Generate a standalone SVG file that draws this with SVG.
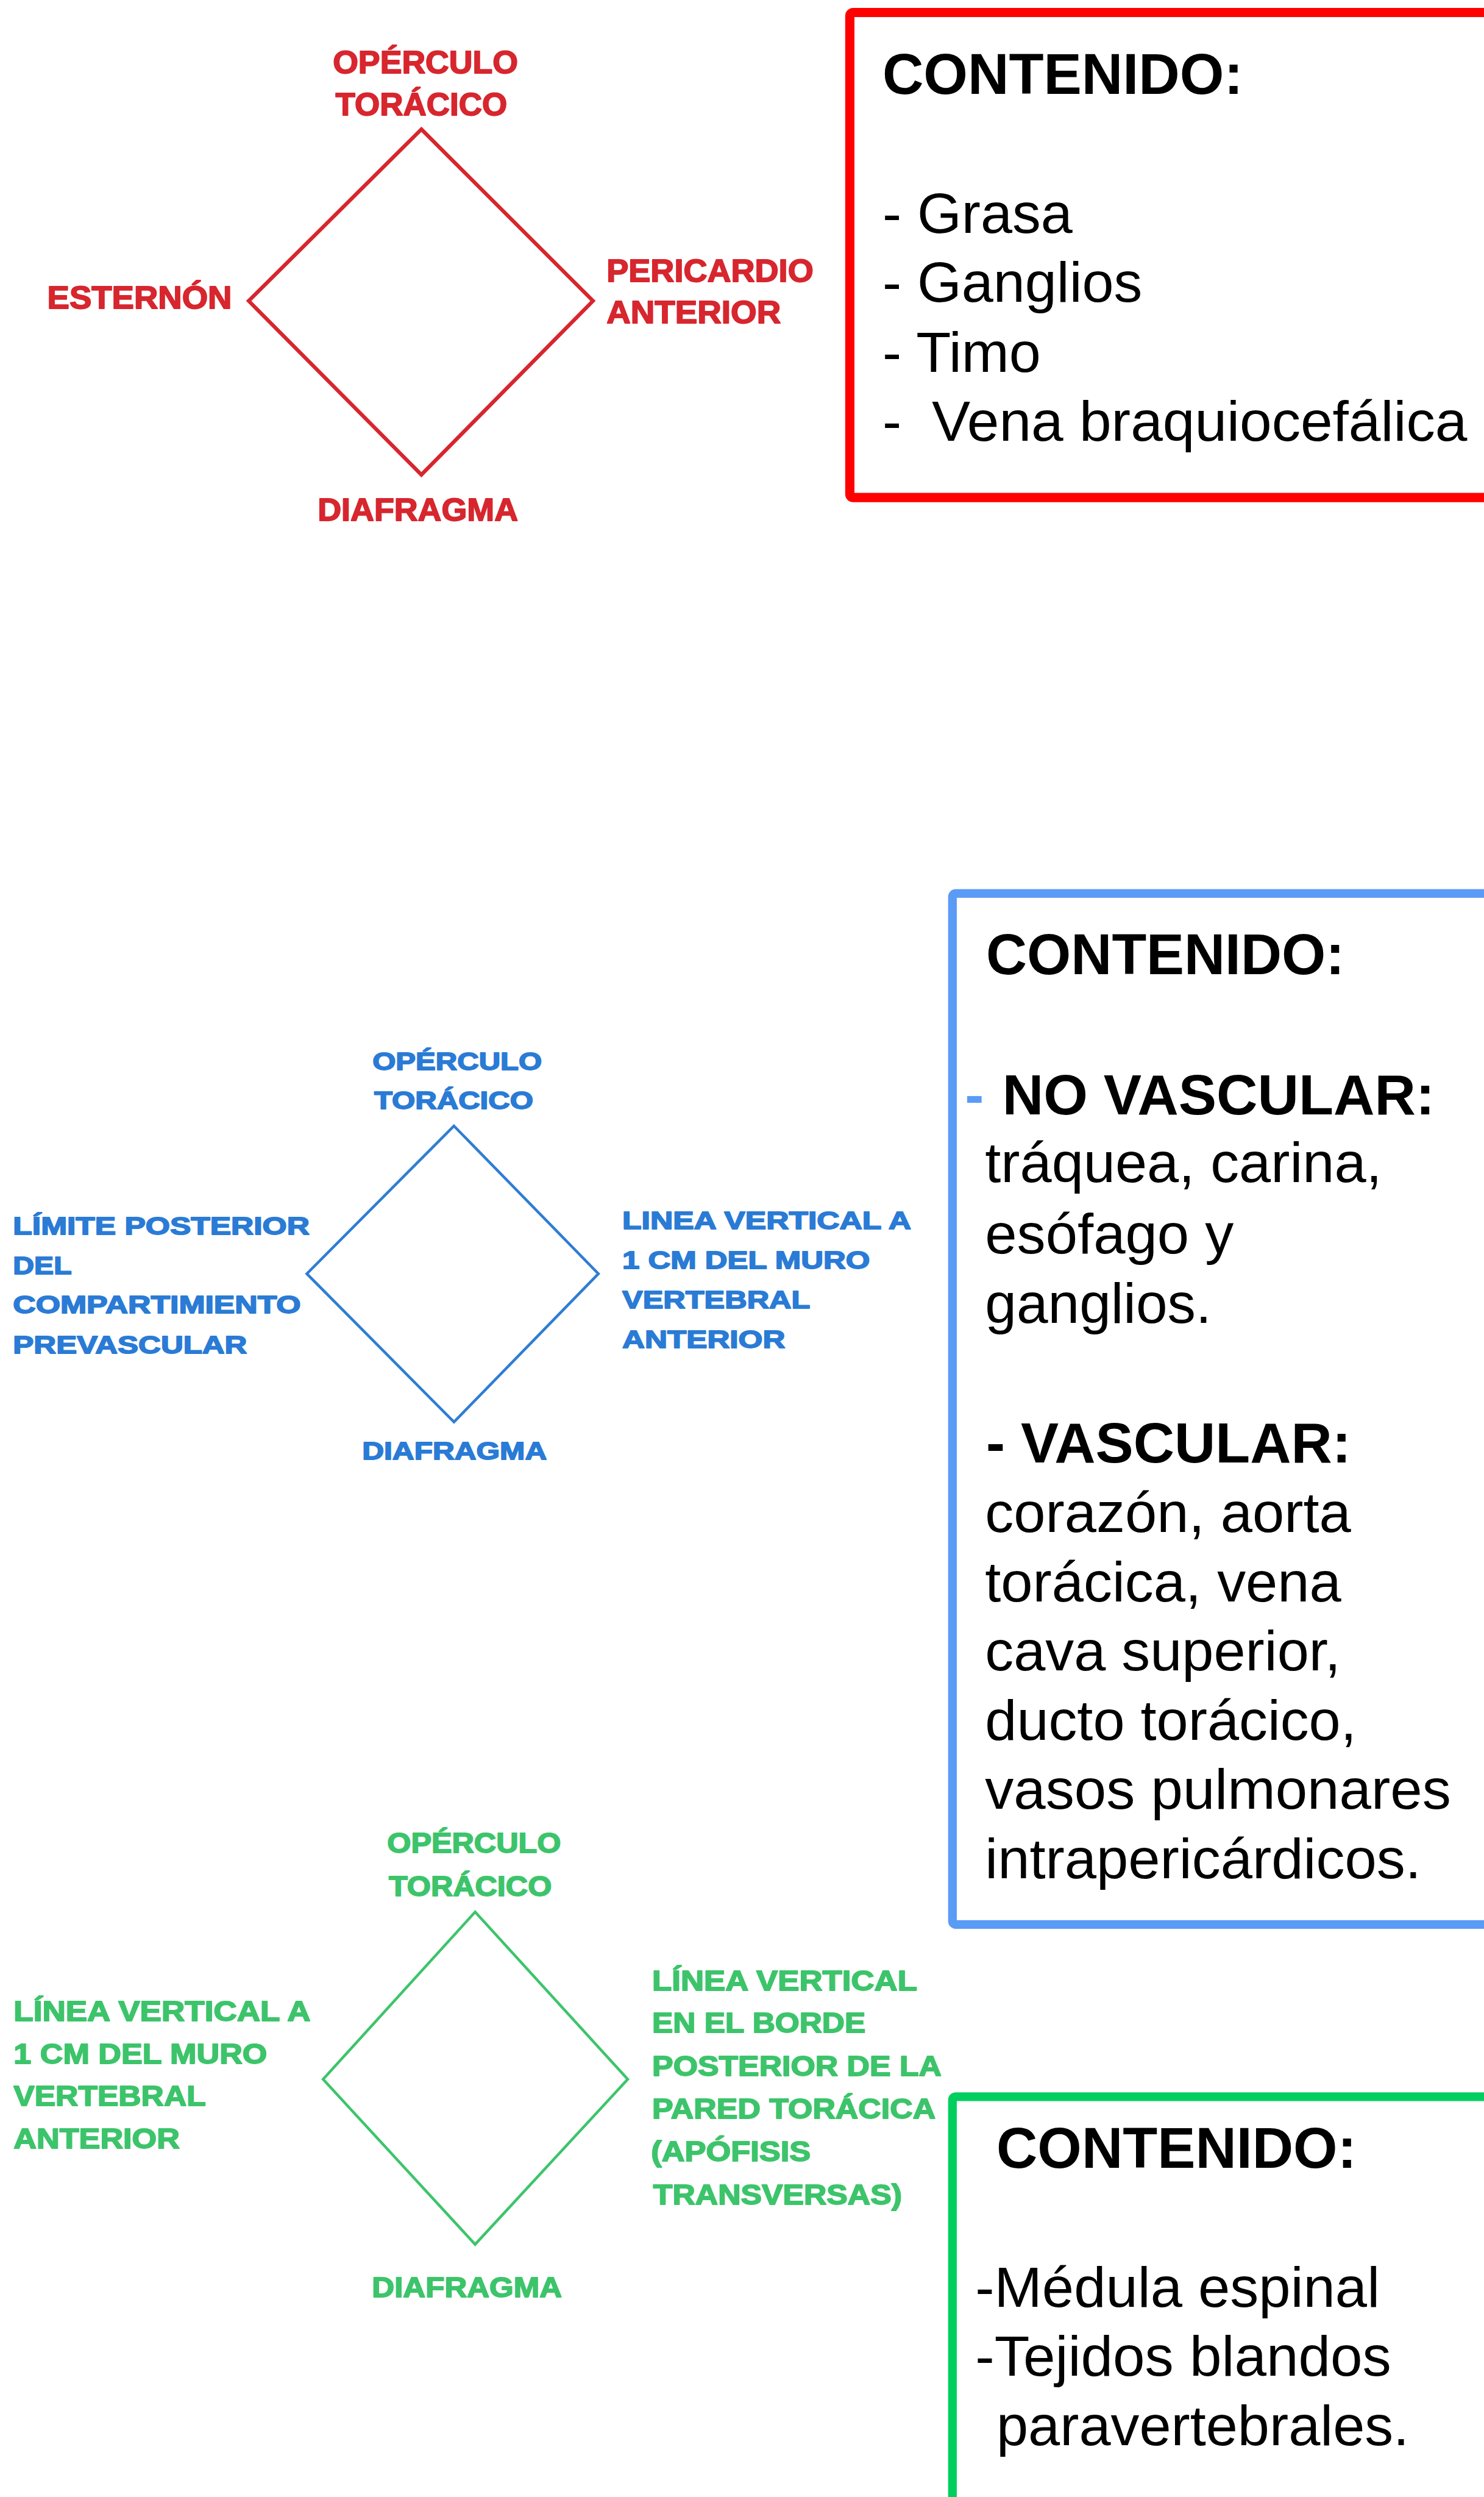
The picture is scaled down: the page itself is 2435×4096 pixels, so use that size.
<svg xmlns="http://www.w3.org/2000/svg" width="2435" height="4096" viewBox="0 0 2435 4096">
<style>
.lab{font-family:"Liberation Sans",Arial,sans-serif;font-weight:bold;stroke-width:2;stroke-linejoin:round;}
.r{fill:#d7262e;stroke:#d7262e;font-size:58px;}
.b{fill:#2a7bd5;stroke:#2a7bd5;font-size:46px;}
.g{fill:#3dc46b;stroke:#3dc46b;font-size:51px;}
.dr{fill:none;stroke:#d7262e;stroke-width:7;}
.db{fill:none;stroke:#2e7dd3;stroke-width:5;}
.dg{fill:none;stroke:#3dc46b;stroke-width:5;}
.box{fill:#ffffff;}
.h{font-family:"Liberation Sans",Arial,sans-serif;font-weight:bold;font-size:106px;fill:#000;}
.t{font-family:"Liberation Sans",Arial,sans-serif;font-size:105px;fill:#000;}
.tb{font-family:"Liberation Sans",Arial,sans-serif;font-weight:bold;font-size:105px;fill:#000;}
</style>
<rect x="0" y="0" width="2435" height="4096" fill="#ffffff"/>
<g transform="scale(0.891)">
  <g id="red-diamond">
    <polygon class="dr" points="776,238 1092,554 776,874 458,554"/>
    <text class="lab r" x="613" y="135" textLength="341" lengthAdjust="spacingAndGlyphs">OPÉRCULO</text>
    <text class="lab r" x="618" y="212" textLength="316" lengthAdjust="spacingAndGlyphs">TORÁCICO</text>
    <text class="lab r" x="87" y="568" textLength="340" lengthAdjust="spacingAndGlyphs">ESTERNÓN</text>
    <text class="lab r" x="1117" y="518" textLength="381" lengthAdjust="spacingAndGlyphs">PERICARDIO</text>
    <text class="lab r" x="1117" y="595" textLength="321" lengthAdjust="spacingAndGlyphs">ANTERIOR</text>
    <text class="lab r" x="585" y="958" textLength="369" lengthAdjust="spacingAndGlyphs">DIAFRAGMA</text>
  </g>
  <g id="red-box">
    <rect class="box" x="1565" y="23" width="1300" height="893" rx="6" stroke="#ff0000" stroke-width="17"/>
    <text class="h" x="1625" y="173" textLength="664" lengthAdjust="spacingAndGlyphs">CONTENIDO:</text>
    <text class="t" x="1625" y="429">- Grasa</text>
    <text class="t" x="1625" y="556">- Ganglios</text>
    <text class="t" x="1625" y="685">- Timo</text>
    <text class="t" y="812"><tspan x="1625">-</tspan><tspan x="1716" textLength="986" lengthAdjust="spacingAndGlyphs">Vena braquiocefálica</tspan></text>
  </g>

  <g id="blue-diamond">
    <polygon class="db" points="836,2073 1102,2345 836,2618 565,2345"/>
    <text class="lab b" x="686" y="1970" textLength="312" lengthAdjust="spacingAndGlyphs">OPÉRCULO</text>
    <text class="lab b" x="689" y="2041" textLength="293" lengthAdjust="spacingAndGlyphs">TORÁCICO</text>
    <text class="lab b" x="24" y="2273" textLength="546" lengthAdjust="spacingAndGlyphs">LÍMITE POSTERIOR</text>
    <text class="lab b" x="24" y="2346" textLength="108" lengthAdjust="spacingAndGlyphs">DEL</text>
    <text class="lab b" x="24" y="2418" textLength="530" lengthAdjust="spacingAndGlyphs">COMPARTIMIENTO</text>
    <text class="lab b" x="24" y="2492" textLength="431" lengthAdjust="spacingAndGlyphs">PREVASCULAR</text>
    <text class="lab b" x="1146" y="2263" textLength="532" lengthAdjust="spacingAndGlyphs">LINEA VERTICAL A</text>
    <text class="lab b" x="1146" y="2336" textLength="456" lengthAdjust="spacingAndGlyphs">1 CM DEL MURO</text>
    <text class="lab b" x="1146" y="2409" textLength="346" lengthAdjust="spacingAndGlyphs">VERTEBRAL</text>
    <text class="lab b" x="1146" y="2481" textLength="300" lengthAdjust="spacingAndGlyphs">ANTERIOR</text>
    <text class="lab b" x="667" y="2687" textLength="340" lengthAdjust="spacingAndGlyphs">DIAFRAGMA</text>
  </g>
  <g id="blue-box">
    <rect class="box" x="1754" y="1645" width="1100" height="1898" rx="6" stroke="#5a9bf6" stroke-width="16"/>
    <text class="h" x="1816" y="1794" textLength="660" lengthAdjust="spacingAndGlyphs">CONTENIDO:</text>
    <text class="tb" x="1777" y="2052" style="fill:#5a9bf6">-</text>
    <text class="tb" x="1846" y="2052" textLength="796" lengthAdjust="spacingAndGlyphs">NO VASCULAR:</text>
    <text class="t" x="1814" y="2176" textLength="731" lengthAdjust="spacingAndGlyphs">tráquea, carina,</text>
    <text class="t" x="1814" y="2307" textLength="458" lengthAdjust="spacingAndGlyphs">esófago y</text>
    <text class="t" x="1814" y="2435" textLength="417" lengthAdjust="spacingAndGlyphs">ganglios.</text>
    <text class="tb" x="1816" y="2692" textLength="672" lengthAdjust="spacingAndGlyphs">- VASCULAR:</text>
    <text class="t" x="1814" y="2820" textLength="674" lengthAdjust="spacingAndGlyphs">corazón, aorta</text>
    <text class="t" x="1814" y="2948" textLength="656" lengthAdjust="spacingAndGlyphs">torácica, vena</text>
    <text class="t" x="1814" y="3075" textLength="655" lengthAdjust="spacingAndGlyphs">cava superior,</text>
    <text class="t" x="1814" y="3203" textLength="684" lengthAdjust="spacingAndGlyphs">ducto torácico,</text>
    <text class="t" x="1814" y="3330" textLength="858" lengthAdjust="spacingAndGlyphs">vasos pulmonares</text>
    <text class="t" x="1814" y="3458" textLength="803" lengthAdjust="spacingAndGlyphs">intrapericárdicos.</text>
  </g>

  <g id="green-diamond">
    <polygon class="dg" points="875,3520 1156,3828 875,4132 595,3828"/>
    <text class="lab g" x="713" y="3411" textLength="320" lengthAdjust="spacingAndGlyphs">OPÉRCULO</text>
    <text class="lab g" x="716" y="3491" textLength="300" lengthAdjust="spacingAndGlyphs">TORÁCICO</text>
    <text class="lab g" x="25" y="3720" textLength="547" lengthAdjust="spacingAndGlyphs">LÍNEA VERTICAL A</text>
    <text class="lab g" x="25" y="3799" textLength="467" lengthAdjust="spacingAndGlyphs">1 CM DEL MURO</text>
    <text class="lab g" x="25" y="3877" textLength="354" lengthAdjust="spacingAndGlyphs">VERTEBRAL</text>
    <text class="lab g" x="25" y="3955" textLength="306" lengthAdjust="spacingAndGlyphs">ANTERIOR</text>
    <text class="lab g" x="1201" y="3664" textLength="488" lengthAdjust="spacingAndGlyphs">LÍNEA VERTICAL</text>
    <text class="lab g" x="1201" y="3742" textLength="393" lengthAdjust="spacingAndGlyphs">EN EL BORDE</text>
    <text class="lab g" x="1201" y="3822" textLength="533" lengthAdjust="spacingAndGlyphs">POSTERIOR DE LA</text>
    <text class="lab g" x="1201" y="3900" textLength="522" lengthAdjust="spacingAndGlyphs">PARED TORÁCICA</text>
    <text class="lab g" x="1199" y="3979" textLength="294" lengthAdjust="spacingAndGlyphs">(APÓFISIS</text>
    <text class="lab g" x="1203" y="4058" textLength="458" lengthAdjust="spacingAndGlyphs">TRANSVERSAS)</text>
    <text class="lab g" x="685" y="4229" textLength="350" lengthAdjust="spacingAndGlyphs">DIAFRAGMA</text>
  </g>
  <g id="green-box">
    <rect class="box" x="1754" y="3860" width="1100" height="900" rx="6" stroke="#00cf5f" stroke-width="16"/>
    <text class="h" x="1835" y="3991" textLength="663" lengthAdjust="spacingAndGlyphs">CONTENIDO:</text>
    <text class="t" x="1796" y="4247" textLength="745" lengthAdjust="spacingAndGlyphs">-Médula espinal</text>
    <text class="t" x="1796" y="4374" textLength="766" lengthAdjust="spacingAndGlyphs">-Tejidos blandos</text>
    <text class="t" x="1835" y="4502" textLength="760" lengthAdjust="spacingAndGlyphs">paravertebrales.</text>
  </g>
  <g id="connectors"></g>
</g>
</svg>
